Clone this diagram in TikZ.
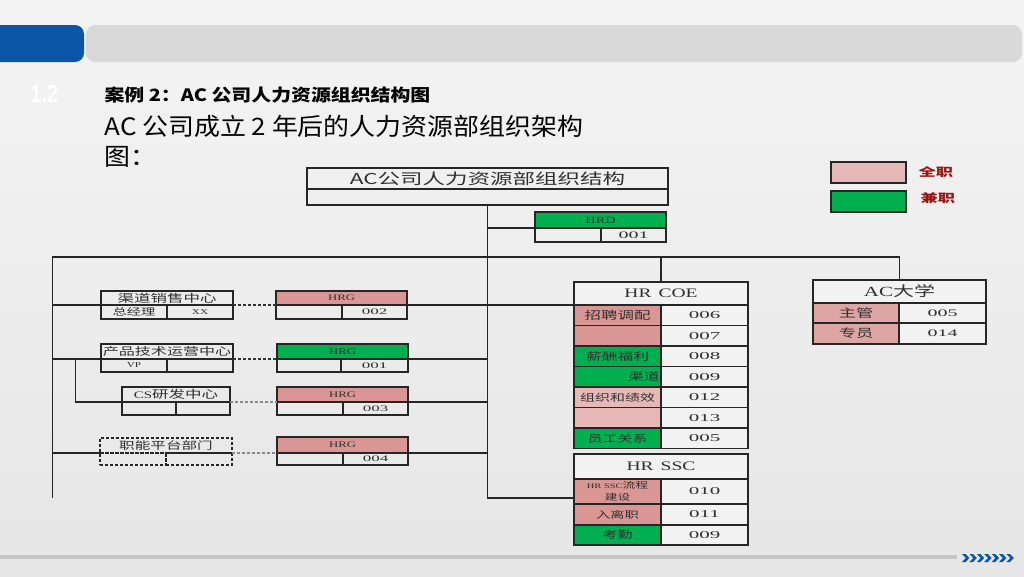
\documentclass[tikz,border=0pt]{standalone}
\usepackage{fontspec}
\setmainfont{Liberation Serif}
\newfontfamily\cjkA{Noto Sans CJK SC}[FakeStretch=1.5]
\newfontfamily\serA{Liberation Serif}[FakeStretch=1.5]
\newfontfamily\numA{Liberation Serif}[FakeStretch=2.0]
\newfontfamily\ttlA{Noto Sans CJK SC}[FakeStretch=1.17]
\newfontfamily\ttlB{Noto Sans CJK SC}[FakeStretch=1.08]
\newfontfamily\oneA{Liberation Sans}[FakeStretch=0.8]
\newcommand\fs[1]{\fontsize{#1}{#1}\selectfont}
\definecolor{bgT}{HTML}{F4F4F4}
\definecolor{bgB}{HTML}{E6E6E6}
\definecolor{blueC}{HTML}{0B56A6}
\definecolor{barG}{HTML}{D9D9D9}
\definecolor{lineG}{HTML}{C4C4C4}
\definecolor{lc}{HTML}{262626}
\definecolor{dcA}{HTML}{333333}
\definecolor{dcB}{HTML}{8A8A8A}
\definecolor{tc}{HTML}{303030}
\definecolor{pinkD}{HTML}{D99694}
\definecolor{pinkL}{HTML}{E6B9B8}
\definecolor{pinkM}{HTML}{DDA5A4}
\definecolor{greenC}{HTML}{00B050}
\definecolor{cellW}{HTML}{F2F2F2}
\definecolor{legR}{HTML}{9A1414}
\newcommand\tcell[7]{\node[cellbox, fill=#6, minimum width=#4pt, minimum height=#5pt] (#1) at (#2,#3) {#7};}
\newcommand\tdcell[6]{\node[dcell, minimum width=#4pt, minimum height=#5pt] (#1) at (#2,#3) {#6};}
\begin{document}
\begin{tikzpicture}[x=1pt,y=-1pt,
  cellbox/.style={draw=lc, line width=1.1pt, anchor=north west, inner sep=0pt, outer sep=0pt, text=tc},
  dcell/.style={cellbox, dash pattern=on 3pt off 2pt},
  conn/.style={draw=lc, line width=1.1pt},
  dconnA/.style={draw=dcA, line width=1.1pt, dash pattern=on 3pt off 2pt},
  dconnB/.style={draw=dcB, line width=1.1pt, dash pattern=on 3pt off 2pt},
]
% background
\fill[top color=bgT, bottom color=bgB] (0,0) rectangle (1024,576);
\useasboundingbox (0,0) rectangle (1024,576);
\fill[blueC, rounded corners=9pt] (-12,25) rectangle (84,62);
\fill[barG, rounded corners=9pt] (86,25) rectangle (1022,62);
\fill[lineG] (0,555) rectangle (957,559);
\foreach \i in {0,...,6} {
  \fill[blueC] ({962+7.4*\i},554) -- ++(3.6,0) -- ++(3.8,4) -- ++(-3.8,4) -- ++(-3.6,0) -- ++(3.8,-4) -- cycle;
}
% titles
\node[anchor=west, text=white, font=\oneA\bfseries\fs{25}] (num) at (27,94) {1.2};
\node[anchor=west, text=black, font=\ttlA\bfseries\fs{17}] (t1) at (101,95.5) {案例 2：AC 公司人力资源组织结构图};
\node[anchor=west, text=black, font=\ttlB\fs{24}] (t2) at (101,126) {AC 公司成立 2 年后的人力资源部组织架构};
\node[anchor=west, text=black, font=\ttlB\fs{24}] (t3) at (101,157) {图：};
% legend
\tcell{legP}{831}{162}{75}{21}{pinkL}{}
\tcell{legG}{831}{191}{75}{21}{greenC}{}
\node[anchor=west, text=legR, font=\cjkA\bfseries\fs{11.5}] (legPt) at (915,172) {全职};
\node[anchor=west, text=legR, font=\cjkA\bfseries\fs{11.5}] (legGt) at (917,198) {兼职};
% main box
\tcell{mainT}{307}{168}{361}{21}{none}{\cjkA\fs{15}AC公司人力资源部组织结构}
\tcell{mainB}{307}{189}{361}{16}{none}{}
% HRD
\tcell{hrdH}{535}{212}{131}{16}{greenC}{\serA\fs{9.5}HRD}
\tcell{hrdL}{535}{228}{66}{14}{none}{}
\tcell{hrdR}{601}{228}{65}{14}{none}{\numA\fs{10}001}
% left row 1
\tcell{b1T}{101}{291}{132}{14}{none}{\cjkA\fs{11}渠道销售中心}
\tcell{b1L}{101}{305}{66}{14}{none}{\cjkA\fs{9.5}总经理}
\tcell{b1R}{167}{305}{66}{14}{none}{\serA\fs{7.5}XX}
\tcell{g1T}{276}{291}{131}{14}{pinkD}{\serA\fs{8.5}HRG}
\tcell{g1L}{276}{305}{66}{14}{none}{}
\tcell{g1R}{342}{305}{65}{14}{none}{\numA\fs{8.5}002}
% left row 2
\tcell{b2T}{101}{344}{132}{15}{none}{\cjkA\fs{10.7}产品技术运营中心}
\tcell{b2L}{101}{359}{66}{13}{none}{\serA\fs{7.5}VP}
\tcell{b2R}{167}{359}{66}{13}{none}{}
\tcell{g2T}{277}{344}{131}{15}{greenC}{\serA\fs{8.5}HRG}
\tcell{g2L}{277}{359}{64}{13}{none}{}
\tcell{g2R}{341}{359}{67}{13}{none}{\numA\fs{8.5}001}
% left row 3
\tcell{b3T}{122}{387}{108}{15}{none}{{\serA\fs{10}CS}{\cjkA\fs{11}研发中心}}
\tcell{b3L}{122}{402}{54}{13}{none}{}
\tcell{b3R}{176}{402}{54}{13}{none}{}
\tcell{g3T}{277}{387}{131}{15}{pinkD}{\serA\fs{8.5}HRG}
\tcell{g3L}{277}{402}{66}{13}{none}{}
\tcell{g3R}{343}{402}{65}{13}{none}{\numA\fs{8.5}003}
% left row 4
\tdcell{b4T}{100}{438}{132}{15}{\cjkA\fs{10.4}职能平台部门}
\tdcell{b4L}{100}{453}{66}{12}{}
\tdcell{b4R}{166}{453}{66}{12}{}
\tcell{g4T}{277}{437}{131}{16}{pinkD}{\serA\fs{8.5}HRG}
\tcell{g4L}{277}{453}{66}{12}{none}{}
\tcell{g4R}{343}{453}{65}{12}{none}{\numA\fs{8.5}004}
% HR COE
\tcell{coeH}{574}{282}{174}{23}{cellW}{\serA\fs{13}HR\hspace{7pt}COE}
\tcell{coeL1}{574}{305}{87}{20.5}{pinkD}{\cjkA\fs{11}招聘调配}
\tcell{coeR1}{661}{305}{87}{20.5}{cellW}{\numA\fs{10.5}006}
\tcell{coeL2}{574}{325.5}{87}{20.5}{pinkD}{}
\tcell{coeR2}{661}{325.5}{87}{20.5}{cellW}{\numA\fs{10.5}007}
\tcell{coeL3}{574}{346}{87}{20.5}{greenC}{\cjkA\fs{10.5}薪酬福利}
\tcell{coeR3}{661}{346}{87}{20.5}{cellW}{\numA\fs{10.5}008}
\node[cellbox, fill=greenC, minimum width=87pt, minimum height=20.5pt, text width=84pt, align=right, font=\cjkA\fs{10.5}] (coeL4) at (574,366.5) {渠道};
\tcell{coeR4}{661}{366.5}{87}{20.5}{cellW}{\numA\fs{10.5}009}
\tcell{coeL5}{574}{387}{87}{20.5}{pinkL}{\cjkA\fs{10}组织和绩效}
\tcell{coeR5}{661}{387}{87}{20.5}{cellW}{\numA\fs{10.5}012}
\tcell{coeL6}{574}{407.5}{87}{20.5}{pinkL}{}
\tcell{coeR6}{661}{407.5}{87}{20.5}{cellW}{\numA\fs{10.5}013}
\tcell{coeL7}{574}{428}{87}{20.5}{greenC}{\cjkA\fs{10}员工关系}
\tcell{coeR7}{661}{428}{87}{20.5}{cellW}{\numA\fs{10.5}005}
% HR SSC
\tcell{sscH}{574}{454}{174}{25}{cellW}{\serA\fs{13}HR\hspace{7pt}SSC}
\node[cellbox, fill=pinkD, minimum width=87pt, minimum height=25pt, align=center] (sscL1) at (574,479) {{\serA\fs{7}HR SSC}{\cjkA\fs{8.5}流程}\\{\cjkA\fs{8.5}建设}};
\tcell{sscR1}{661}{479}{87}{25}{cellW}{\numA\fs{10.5}010}
\tcell{sscL2}{574}{504}{87}{21}{pinkD}{\cjkA\fs{9.5}入离职}
\tcell{sscR2}{661}{504}{87}{21}{cellW}{\numA\fs{10.5}011}
\tcell{sscL3}{574}{525}{87}{20}{greenC}{\cjkA\fs{10}考勤}
\tcell{sscR3}{661}{525}{87}{20}{cellW}{\numA\fs{10.5}009}
% AC university
\tcell{acH}{813}{280}{173}{23}{cellW}{{\serA\fs{14}AC}{\cjkA\fs{14}大学}}
\tcell{acL1}{813}{303}{86}{20}{pinkM}{\cjkA\fs{11.5}主管}
\tcell{acR1}{899}{303}{87}{20}{cellW}{\numA\fs{10}005}
\tcell{acL2}{813}{323}{86}{21}{pinkM}{\cjkA\fs{11.5}专员}
\tcell{acR2}{899}{323}{87}{21}{cellW}{\numA\fs{10}014}
% connectors
\coordinate (tl) at (52.5,257);
\coordinate (bl) at (52.5,498);
\coordinate (spineEnd) at (487.5,498);
\coordinate (br) at (75.5,359);
\draw[conn] (mainB.south) -- (spineEnd) -- (spineEnd -| sscL1.west);
\draw[conn] (hrdH.south west) -- (hrdH.south west -| mainB.south);
\draw[conn] (acH.north) |- (tl) -- (bl);
\draw[conn] (coeH.north) -- (coeH.north |- tl);
\draw[conn] (tl |- b1T.south) -- (b1T.south west);
\draw[dconnA] (b1T.south east) -- (g1T.south west);
\draw[conn] (g1T.south east) -- (coeH.south west);
\draw[conn] (tl |- b2T.south) -- (b2T.south west);
\draw[dconnA] (b2T.south east) -- (g2T.south west);
\draw[conn] (g2T.south east) -- (g2T.south east -| mainB.south);
\draw[conn] (br) |- (b3T.south west);
\draw[dconnB] (b3T.south east) -- (g3T.south west);
\draw[conn] (g3T.south east) -- (g3T.south east -| mainB.south);
\draw[conn] (tl |- b4T.south) -- (b4T.south west);
\draw[dconnB] (b4T.south east) -- (g4T.south west);
\draw[conn] (g4T.south east) -- (g4T.south east -| mainB.south);
\end{tikzpicture}
\end{document}
